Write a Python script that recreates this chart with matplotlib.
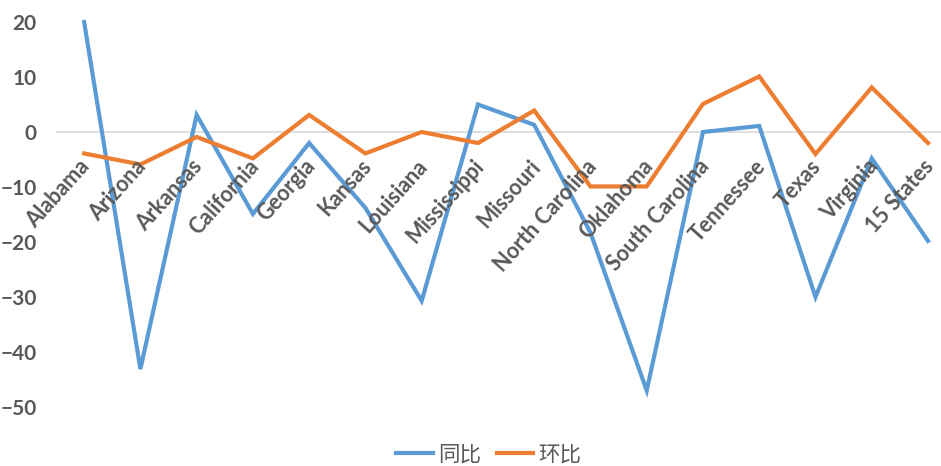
import matplotlib
matplotlib.use("Agg")
import matplotlib.pyplot as plt

states = ["Alabama", "Arizona", "Arkansas", "California", "Georgia", "Kansas",
          "Louisiana", "Mississippi", "Missouri", "North Carolina", "Oklahoma",
          "South Carolina", "Tennessee", "Texas", "Virginia", "15 States"]
yoy = [20, -43.1, 3.1, -14.9, -2, -13.8, -30.7, 5, 1.3, -18.3, -47, 0, 1.1, -30, -4.8, -19.8]
mom = [-3.9, -5.9, -0.9, -4.8, 3.1, -3.9, 0, -2, 3.9, -9.9, -9.9, 5.1, 10.1, -4, 8.1, -2]
yticks = [20, 10, 0, -10, -20, -30, -40, -50]

W, H = 941, 466
fig = plt.figure(figsize=(W / 100, H / 100), dpi=100)
left, right, top, bottom = 56, 941, 22, 407
ax = fig.add_axes([left / W, 1 - bottom / H, (right - left) / W, (bottom - top) / H])

gray = "#595959"
x = list(range(len(states)))
l1, = ax.plot(x, yoy, color="#5B9BD5", lw=3, solid_joinstyle="miter", clip_on=False, label="同比")
l2, = ax.plot(x, mom, color="#ED7D31", lw=3, solid_joinstyle="miter", clip_on=False, label="环比")
ax.axhline(0, color="#D9D9D9", lw=1.2, zorder=0)

ax.set_xlim(-0.5, 15 + (941 - 928) / 56.3)
ax.set_ylim(-50, 20)
for s in ax.spines.values():
    s.set_visible(False)
ax.set_xticks([])
ax.set_yticks(yticks)
ax.tick_params(axis="y", length=0, pad=14, labelcolor=gray)
for t in ax.get_yticklabels():
    t.set_fontsize(15)
    t.set_fontweight("bold")
    t.set_family("Lato")

for i, s in enumerate(states):
    ax.text(i + 0.04, -5.6, s, rotation=48, rotation_mode="anchor", ha="right", va="center",
            fontsize=15.5, fontweight="bold", color=gray, family="Lato")

fig.legend(handles=[l1, l2], loc="center", bbox_to_anchor=(489 / W, 1 - 455 / H), ncol=2,
           frameon=False, prop={"family": ["Noto Sans CJK SC", "DejaVu Sans"], "size": 15.5},
           labelcolor=gray, handlelength=1.7, columnspacing=0.7, handletextpad=0.25)

fig.savefig("out.png", dpi=100)
